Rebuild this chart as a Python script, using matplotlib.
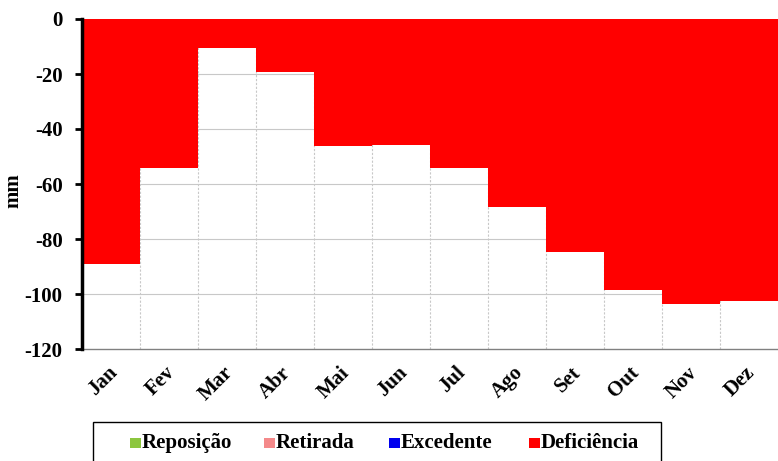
import matplotlib
matplotlib.use("Agg")
import matplotlib.pyplot as plt
from matplotlib.patches import Rectangle
from matplotlib.transforms import ScaledTranslation
import numpy as np

months = ["Jan", "Fev", "Mar", "Abr", "Mai", "Jun", "Jul", "Ago", "Set", "Out", "Nov", "Dez"]
deficiencia = [-89.1, -54.2, -10.5, -19.3, -46.2, -45.8, -54.2, -68.5, -84.6, -98.4, -103.6, -102.4]
reposicao = [0] * 12
retirada = [0] * 12
excedente = [0] * 12
yticks = [0, -20, -40, -60, -80, -100, -120]
series_names = ["Reposição", "Retirada", "Excedente", "Deficiência"]
series_colors = ["#8cc63f", "#f4898a", "#0000ee", "#ff0000"]

plt.rcParams['font.family'] = ['Liberation Serif', 'DejaVu Serif']
plt.rcParams['font.weight'] = 'bold'

W, H = 778, 461
fig = plt.figure(figsize=(W / 100, H / 100), dpi=100)
ax = fig.add_axes([82 / W, 1 - 349 / H, (W - 82) / W, (349 - 19) / H])

x = np.arange(len(months))
for vals, c in zip([reposicao, retirada, excedente, deficiencia], series_colors):
    ax.bar(x, vals, width=1.0, color=c, zorder=3, linewidth=0)

ax.set_xlim(-0.5, len(months) - 0.5)
ax.set_ylim(-120, 0)
ax.set_yticks(yticks)
ax.set_yticklabels([str(v) for v in yticks], fontsize=15, fontweight='bold')
ax.set_xticks(x)
ax.set_xticklabels(months, rotation=45, ha='right', rotation_mode='anchor', fontsize=15, fontweight='bold')
ax.tick_params(axis='x', length=0, pad=10)
ax.tick_params(axis='y', length=5, width=2, direction='out', color='black', pad=9)
shift = ScaledTranslation(-4 / 100, 0, fig.dpi_scale_trans)
for lab in ax.get_xticklabels():
    lab.set_transform(lab.get_transform() + shift)

for yv in yticks[1:-1]:
    ax.axhline(yv, color='#c8c8c8', lw=0.8, zorder=1)
for xv in np.arange(0.5, len(months) - 0.5, 1):
    ax.axvline(xv, color='#c8c8c8', lw=0.8, ls=(0, (2, 1.5)), zorder=1)

for s in ['top', 'right']:
    ax.spines[s].set_visible(False)
ax.spines['left'].set_linewidth(2.5)
ax.spines['left'].set_color('black')
ax.spines['left'].set_zorder(5)
ax.spines['bottom'].set_color('#808080')
ax.spines['bottom'].set_linewidth(1)

ax.set_ylabel("mm", fontsize=15, fontweight='bold')
ax.yaxis.set_label_coords(-0.084, 0.48)

# legend (Excel-style, drawn manually)
fig.patches.append(Rectangle((93 / W, -0.01), (661 - 93) / W, (1 - 422 / H) + 0.01,
                             transform=fig.transFigure, facecolor='white',
                             edgecolor='black', linewidth=1))
entry_x = [130, 264, 389, 529]
ly = 1 - 443 / H
for name, c, ex in zip(series_names, series_colors, entry_x):
    fig.patches.append(Rectangle((ex / W, ly - 5 / H), 11 / W, 10 / H,
                                 transform=fig.transFigure, facecolor=c, edgecolor='none'))
    fig.text((ex + 12) / W, ly, name, fontsize=15, fontweight='bold', va='center', ha='left')

fig.savefig("out.png", dpi=100)
